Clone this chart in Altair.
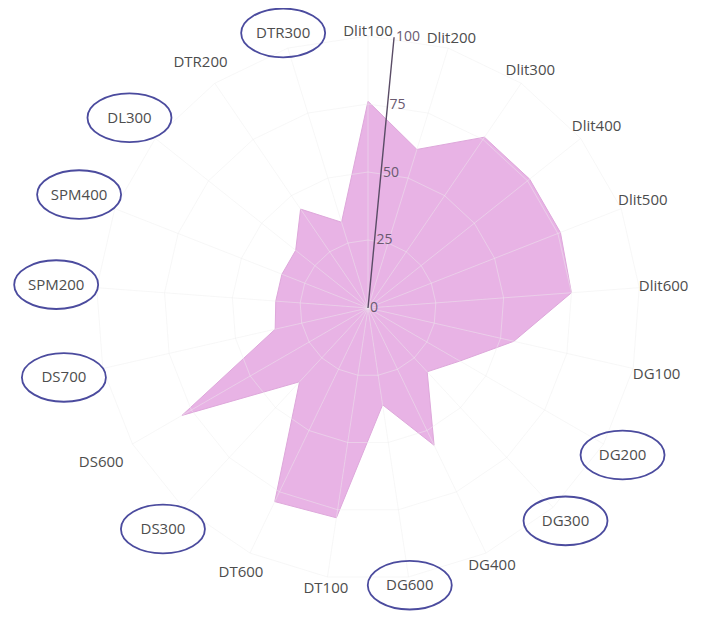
import altair as alt
import pandas as pd

# ---- data ----
cats = ["Dlit100", "Dlit200", "Dlit300", "Dlit400", "Dlit500", "Dlit600",
        "DG100", "DG200", "DG300", "DG400", "DG600", "DT100", "DT600",
        "DS300", "DS600", "DS700", "SPM200", "SPM400", "DL300", "DTR200", "DTR300"]
values = [76, 61, 76, 76, 76, 75,
          55, 39, 32, 56, 36, 78, 79,
          37, 79, 35, 34, 34, 34, 44, 33]
grid_levels = [25, 50, 75, 100]
tick_values = [0, 25, 50, 75, 100]
circled = ["DTR300", "DL300", "SPM400", "SPM200", "DS700", "DS300", "DG600", "DG300", "DG200"]

n = len(cats)
AXIS_DEG = 5.5
T = f"datum.idx * 2 * PI / {n}"

poly = pd.DataFrame({"cat": cats + [cats[0]], "value": values + [values[0]],
                     "idx": list(range(n)) + [n]})
grid = pd.DataFrame([{"level": L, "idx": i} for L in grid_levels for i in range(n + 1)])
spokes = pd.DataFrame({"idx": list(range(n))})
labels = pd.DataFrame({"cat": cats, "idx": list(range(n))})
ticks = pd.DataFrame({"tick": tick_values})

K = 2.72  # px per unit
CX, CY = 360, 300  # centre inside the plot area
xs = alt.Scale(domain=[-CX / K, (689 - CX) / K], nice=False, zero=False)
ys = alt.Scale(domain=[-(605 - CY) / K, CY / K], nice=False, zero=False)


def X(f):
    return alt.X(f, type="quantitative", scale=xs, axis=None)


def Y(f):
    return alt.Y(f, type="quantitative", scale=ys, axis=None)


area = alt.Chart(poly).transform_calculate(
    t=T, px="datum.value * sin(datum.t)", py="datum.value * cos(datum.t)"
).mark_line(fill="#e8b3e5", stroke="#dea8db", strokeWidth=1, fillOpacity=1).encode(
    x=X("px"), y=Y("py"), order="idx:Q"
)

rings = alt.Chart(grid).transform_calculate(
    t=T, gx="datum.level * sin(datum.t)", gy="datum.level * cos(datum.t)"
).mark_line(stroke="#eeeeee", strokeWidth=1, opacity=0.45).encode(
    x=X("gx"), y=Y("gy"), detail="level:N", order="idx:Q"
)

spoke = alt.Chart(spokes).transform_calculate(
    t=T, x0="0", y0="0", x1="100 * sin(datum.t)", y1="100 * cos(datum.t)"
).mark_rule(stroke="#eeeeee", strokeWidth=1, opacity=0.45).encode(
    x=X("x0"), y=Y("y0"), x2="x1:Q", y2="y1:Q"
)

axis_line = alt.Chart(ticks).transform_calculate(
    ax=f"datum.tick * sin({AXIS_DEG} * PI / 180)", ay=f"datum.tick * cos({AXIS_DEG} * PI / 180)"
).mark_line(stroke="#5a4c66", strokeWidth=1.4).encode(
    x=X("ax"), y=Y("ay"), order="tick:Q"
)

axis_text = alt.Chart(ticks).transform_calculate(
    ax=f"datum.tick * sin({AXIS_DEG} * PI / 180)", ay=f"datum.tick * cos({AXIS_DEG} * PI / 180)"
).mark_text(align="left", baseline="middle", dx=2, fontSize=14, font="Open Sans",
            color="#6a5a70").encode(
    x=X("ax"), y=Y("ay"), text=alt.Text("tick:Q", format="d")
)

lab_base = alt.Chart(labels).transform_calculate(
    t=T, r="102 + 7 * abs(sin(datum.t)) + 6 * max(0, -sin(datum.t))",
    lx="datum.r * sin(datum.t)", ly="datum.r * cos(datum.t)"
)

cat_text = lab_base.mark_text(fontSize=15, font="Open Sans", color="#4d4d4d",
                              baseline="middle", align="center").encode(
    x=X("lx"), y=Y("ly"), text="cat:N"
)

ellipse = "M-1,0A1,0.58 0 1,1 1,0A1,0.58 0 1,1 -1,0Z"
rings_hand = lab_base.transform_filter(
    alt.FieldOneOfPredicate(field="cat", oneOf=circled)
).mark_point(shape=ellipse, size=84 * 84, filled=False, stroke="#4b4b9e",
             strokeWidth=1.8, opacity=1).encode(
    x=X("lx"), y=Y("ly")
)

chart = alt.layer(area, rings, spoke, axis_line, axis_text, cat_text, rings_hand).properties(
    width=689, height=605, padding=0,
    autosize=alt.AutoSizeParams(type="none"),
    background="white"
).configure_view(stroke=None)

chart.save("out.html", embed_options={"renderer": "svg", "actions": False})
